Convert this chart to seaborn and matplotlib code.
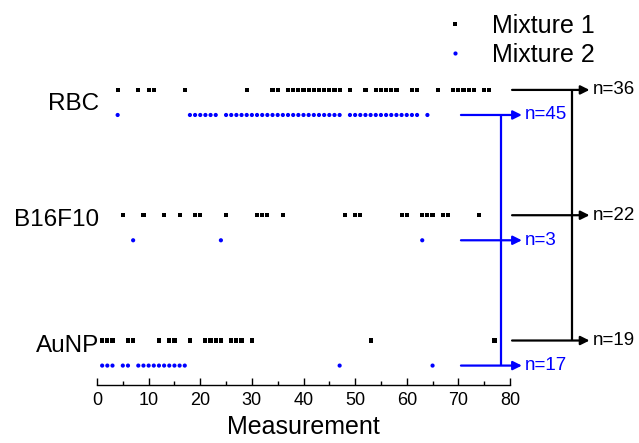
import pandas as pd
import matplotlib
matplotlib.use('Agg')
import matplotlib.pyplot as plt
from matplotlib.ticker import MultipleLocator
import seaborn as sns

samples = ['RBC', 'B16F10', 'AuNP']
mixtures = ['Mixture 1', 'Mixture 2']

rbc_m1 = [4, 8, 10, 11, 17, 29, 34, 35, 37, 38, 39, 40, 41, 42, 43, 44, 45, 46, 47,
          49, 52, 54, 55, 56, 57, 58, 61, 62, 66, 69, 70, 71, 72, 73, 75, 76]
rbc_m2 = [4, 18, 19, 20, 21, 22, 23, 25, 26, 27, 28, 29, 30, 31, 32, 33, 34, 35, 36,
          37, 38, 39, 40, 41, 42, 43, 44, 45, 46, 47, 49, 50, 51, 52, 53, 54, 55, 56,
          57, 58, 59, 60, 61, 62, 64]
b16_m1 = [5, 9, 13, 16, 19, 20, 25, 31, 32, 33, 36, 48, 50, 51, 59, 60, 63, 64, 65,
          67, 68, 74]
b16_m2 = [7, 24, 63]
aunp_m1 = [1, 2, 3, 6, 7, 12, 14, 15, 18, 21, 22, 23, 24, 26, 27, 28, 30, 53, 77]
aunp_m2 = [1, 2, 3, 5, 6, 8, 9, 10, 11, 12, 13, 14, 15, 16, 17, 47, 65]

values = {
    ('RBC', 'Mixture 1'): rbc_m1, ('RBC', 'Mixture 2'): rbc_m2,
    ('B16F10', 'Mixture 1'): b16_m1, ('B16F10', 'Mixture 2'): b16_m2,
    ('AuNP', 'Mixture 1'): aunp_m1, ('AuNP', 'Mixture 2'): aunp_m2,
}

row_y = {'RBC': 3, 'B16F10': 2, 'AuNP': 1}
shift = {'Mixture 1': 0.1, 'Mixture 2': -0.1}

rows = []
for (smp, mix), vals in values.items():
    for v in vals:
        rows.append({'Sample': smp, 'Mixture': mix, 'Measurement': v,
                     'ypos': row_y[smp] + shift[mix]})
df = pd.DataFrame(rows)

sns.set_style('white')
plt.rcParams['font.family'] = ['Liberation Sans', 'DejaVu Sans']
plt.rcParams['text.color'] = 'black'
plt.rcParams['axes.labelcolor'] = 'black'
plt.rcParams['xtick.color'] = 'black'
plt.rcParams['ytick.color'] = 'black'

fig = plt.figure(figsize=(6.39, 4.43), dpi=100)
ax = fig.add_axes([97 / 639, 58 / 443, 413 / 639, 345.2 / 443])

colors = {'Mixture 1': 'black', 'Mixture 2': 'blue'}
sns.scatterplot(data=df, x='Measurement', y='ypos', hue='Mixture', style='Mixture',
                markers={'Mixture 1': 's', 'Mixture 2': 'o'}, palette=colors,
                s=9, linewidth=0, ax=ax)

ax.set_xlim(0, 80)
ax.set_ylim(0.745, 3.5)
for sp in ['top', 'right', 'left']:
    ax.spines[sp].set_visible(False)
ax.spines['bottom'].set_color('black')
ax.spines['bottom'].set_linewidth(1)
ax.xaxis.set_major_locator(MultipleLocator(10))
ax.xaxis.set_minor_locator(MultipleLocator(5))
ax.tick_params(axis='x', which='major', direction='in', length=5, width=1,
               colors='black', labelsize=13, bottom=True, pad=5)
ax.tick_params(axis='x', which='minor', direction='in', length=3, width=1,
               colors='black', bottom=True)
ax.set_xlabel('Measurement', fontsize=18, labelpad=4)
ax.set_ylabel('')
ax.set_yticks([3.01, 2.08, 1.08])
ax.set_yticklabels(samples, fontsize=17.5)
ax.tick_params(axis='y', length=0, pad=-1.5)

# summary arrows: Mixture 1 (black) and Mixture 2 (blue)
n_m1 = [len(values[(s, 'Mixture 1')]) for s in samples]
n_m2 = [len(values[(s, 'Mixture 2')]) for s in samples]

def bracket(mix, counts, x0, xv, xtip, xtext):
    c = colors[mix]
    ys = [row_y[s] + shift[mix] for s in samples]
    ax.plot([xv, xv], [max(ys), min(ys)], color=c, lw=1.6, clip_on=False,
            solid_capstyle='butt')
    for y, n in zip(ys, counts):
        ax.annotate('', xy=(xtip, y), xytext=(x0, y), annotation_clip=False,
                    arrowprops=dict(arrowstyle='-|>', color=c, lw=1.6,
                                    shrinkA=0, shrinkB=0, mutation_scale=13))
        ax.text(xtext, y, f'n={n}', color=c, fontsize=13.5, va='center',
                ha='left', clip_on=False)

bracket('Mixture 1', n_m1, 80.4, 92.0, 95.4, 96.1)
bracket('Mixture 2', n_m2, 70.5, 78.2, 82.3, 82.8)

handles, labels = ax.get_legend_handles_labels()
ax.legend(handles, labels, loc='upper left', bbox_to_anchor=(0.654, 0.997),
          bbox_transform=fig.transFigure, frameon=False, fontsize=18,
          labelspacing=0.2, markerscale=1.0, handletextpad=0.45, borderpad=0)

fig.savefig('out.png', dpi=100)
